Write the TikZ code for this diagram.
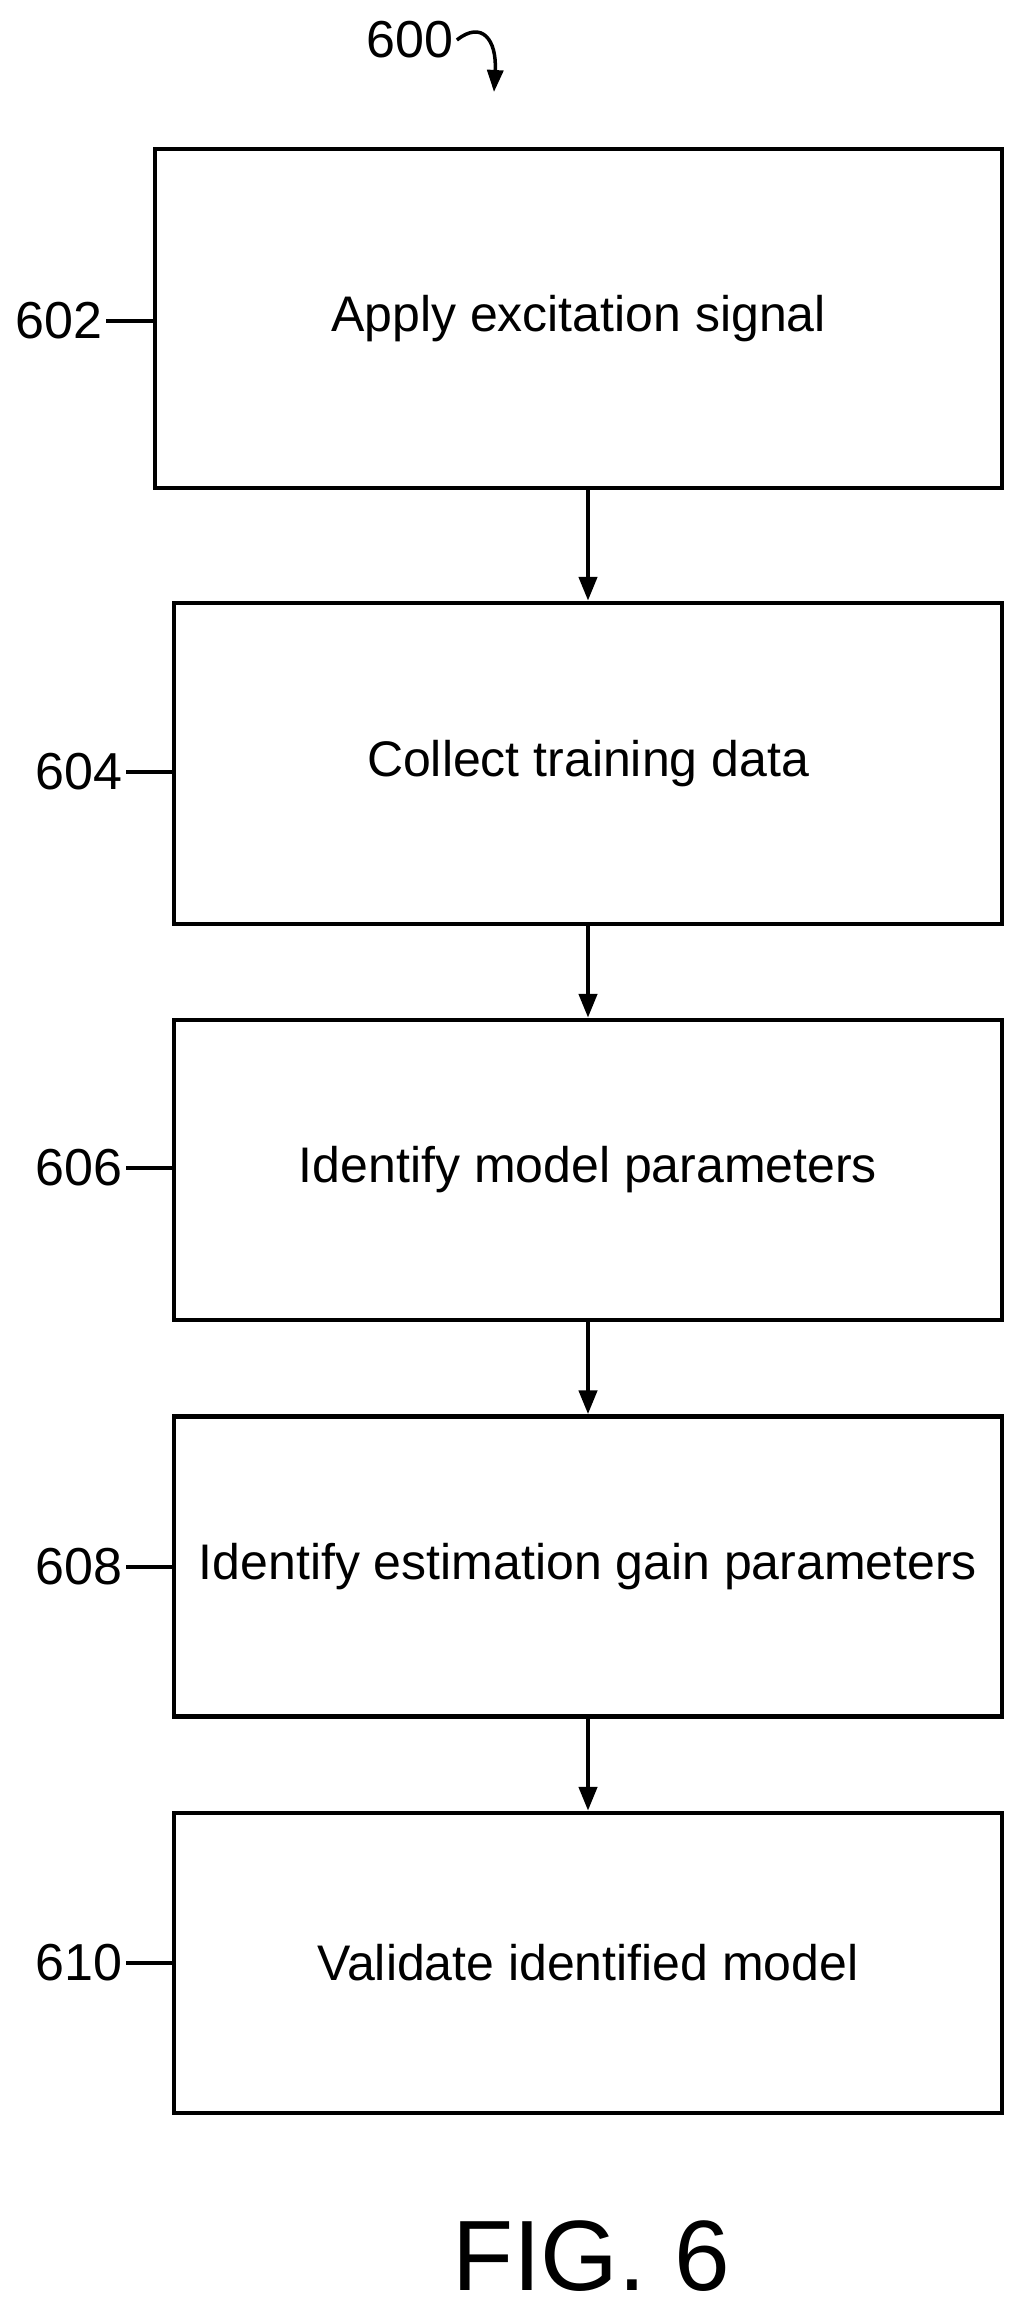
\documentclass[tikz,border=0pt]{standalone}
\usepackage{fontspec}
\setmainfont{Liberation Sans}
\usetikzlibrary{arrows.meta}
\begin{document}
\begin{tikzpicture}[x=1pt,y=-1pt,
  box/.style={draw,line width=4.5pt,inner sep=0pt,minimum width=828pt,minimum height=300pt,font=\fontsize{50}{56}\selectfont},
  lab/.style={font=\fontsize{52}{58}\selectfont},
  lead/.style={line width=4.5pt},
  arr/.style={line width=4.5pt,-{Triangle[length=24pt,width=18pt]}}]
\useasboundingbox (0,0) rectangle (1020,2299);
\node[box,minimum width=847pt,minimum height=339pt] (b1) at (578.5,318.5) {Apply excitation signal};
\node[box,minimum height=321pt] (b2) at (588,763.5) {Collect training data};
\node[box] (b3) at (588,1170) {Identify model parameters};
\node[box] (b4) at (588,1566.5) {Identify estimation gain parameters};
\node[box] (b5) at (588,1963) {Validate identified model};
\draw[arr] (b2.north |- b1.south) -- (b2.north);
\draw[arr] (b2.south) -- (b3.north);
\draw[arr] (b3.south) -- (b4.north);
\draw[arr] (b4.south) -- (b5.north);
\node[lab,anchor=east] (l2) at (106,321) {602};
\node[lab,anchor=east] (l4) at (126,772) {604};
\node[lab,anchor=east] (l6) at (126,1168) {606};
\node[lab,anchor=east] (l8) at (126,1567) {608};
\node[lab,anchor=east] (l10) at (126,1963) {610};
\draw[lead] (l2.east) -- (b1.west |- l2.east);
\draw[lead] (l4.east) -- (b2.west |- l4.east);
\draw[lead] (l6.east) -- (b3.west |- l6.east);
\draw[lead] (l8.east) -- (b4.west |- l8.east);
\draw[lead] (l10.east) -- (b5.west |- l10.east);
\node[lab] (l0) at (410,40) {600};
\coordinate (t0) at (494,92);
\draw[line width=3.5pt,-{Triangle[length=22pt,width=16pt]}] (l0.east) .. controls (482,20) and (497,40) .. (t0);
\node[font=\fontsize{100}{110}\selectfont] (fig) at (591,2256) {FIG. 6};
\end{tikzpicture}
\end{document}
